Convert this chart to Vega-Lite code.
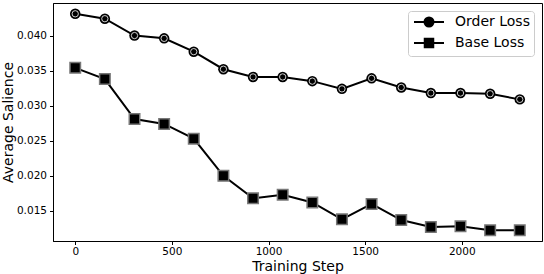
{
  "$schema": "https://vega.github.io/schema/vega-lite/v6.json",
  "width": 489,
  "height": 238,
  "autosize": "none",
  "padding": {"left": 53, "top": 3, "right": 2, "bottom": 33},
  "config": {
    "font": "DejaVu Sans",
    "view": {"stroke": "#000", "strokeWidth": 1},
    "axis": {"domainColor": "#000", "tickColor": "#000", "tickSize": 3.5, "labelFontSize": 10.5, "labelColor": "#000", "titleFontSize": 14, "titleFontWeight": "normal", "titleColor": "#000", "grid": false, "labelFont": "DejaVu Sans", "titleFont": "DejaVu Sans"}
  },
  "data": {"values": [
    {"step": 0, "series": "Order Loss", "value": 0.0431},
    {"step": 153.3, "series": "Order Loss", "value": 0.0424},
    {"step": 306.7, "series": "Order Loss", "value": 0.0400},
    {"step": 460, "series": "Order Loss", "value": 0.0396},
    {"step": 613.3, "series": "Order Loss", "value": 0.0377},
    {"step": 766.7, "series": "Order Loss", "value": 0.0352},
    {"step": 920, "series": "Order Loss", "value": 0.0341},
    {"step": 1073.3, "series": "Order Loss", "value": 0.0341},
    {"step": 1226.7, "series": "Order Loss", "value": 0.0335},
    {"step": 1380, "series": "Order Loss", "value": 0.0324},
    {"step": 1533.3, "series": "Order Loss", "value": 0.0339},
    {"step": 1686.7, "series": "Order Loss", "value": 0.0326},
    {"step": 1840, "series": "Order Loss", "value": 0.0318},
    {"step": 1993.3, "series": "Order Loss", "value": 0.0318},
    {"step": 2146.7, "series": "Order Loss", "value": 0.0317},
    {"step": 2300, "series": "Order Loss", "value": 0.0309},
    {"step": 0, "series": "Base Loss", "value": 0.0354},
    {"step": 153.3, "series": "Base Loss", "value": 0.0338},
    {"step": 306.7, "series": "Base Loss", "value": 0.0281},
    {"step": 460, "series": "Base Loss", "value": 0.0274},
    {"step": 613.3, "series": "Base Loss", "value": 0.0253},
    {"step": 766.7, "series": "Base Loss", "value": 0.0200},
    {"step": 920, "series": "Base Loss", "value": 0.0168},
    {"step": 1073.3, "series": "Base Loss", "value": 0.0173},
    {"step": 1226.7, "series": "Base Loss", "value": 0.0162},
    {"step": 1380, "series": "Base Loss", "value": 0.0138},
    {"step": 1533.3, "series": "Base Loss", "value": 0.0160},
    {"step": 1686.7, "series": "Base Loss", "value": 0.0137},
    {"step": 1840, "series": "Base Loss", "value": 0.0127},
    {"step": 1993.3, "series": "Base Loss", "value": 0.0128},
    {"step": 2146.7, "series": "Base Loss", "value": 0.01225},
    {"step": 2300, "series": "Base Loss", "value": 0.01225}
  ]},
  "encoding": {
    "x": {"field": "step", "type": "quantitative", "title": "Training Step",
      "scale": {"domain": [-115, 2415], "nice": false, "zero": false},
      "axis": {"values": [0, 500, 1000, 1500, 2000], "format": "d", "labelPadding": 2, "titlePadding": 2}},
    "y": {"field": "value", "type": "quantitative", "title": "Average Salience",
      "scale": {"domain": [0.01071, 0.04464], "nice": false, "zero": false},
      "axis": {"values": [0.015, 0.02, 0.025, 0.03, 0.035, 0.04], "format": ".3f", "labelPadding": 3, "titlePadding": 1}}
  },
  "layer": [
    {
      "mark": {"type": "line", "strokeWidth": 2},
      "encoding": {
        "color": {"field": "series", "type": "nominal",
          "scale": {"domain": ["Order Loss", "Base Loss"], "range": ["#000", "#000"]},
          "legend": {
            "title": null, "orient": "top-right", "offset": 8,
            "labelFontSize": 14, "labelFont": "DejaVu Sans", "labelColor": "#000",
            "symbolSize": 100, "symbolOffset": 10, "labelOffset": 19, "rowPadding": 3,
            "padding": 4, "strokeColor": "#ccc", "fillColor": "rgba(255,255,255,0.8)", "cornerRadius": 3,
            "symbolStrokeWidth": 2,
            "encode": {"symbols": {"update": {
              "shape": {"signal": "datum.value === 'Order Loss' ? 'M-3,0H3M0.9,0A0.9,0.9 0 1,1 -0.9,0A0.9,0.9 0 1,1 0.9,0Z' : 'M-3,0H3M-0.85,-0.85H0.85V0.85H-0.85Z'"},
              "fill": {"value": "#000"},
              "stroke": {"value": "#000"},
              "strokeWidth": {"value": 2}
            }}}
          }}
      }
    },
    {
      "transform": [{"filter": "datum.series === 'Order Loss'"}],
      "mark": {"type": "point", "shape": "circle", "filled": true, "size": 110, "color": "#000", "opacity": 1}
    },
    {
      "transform": [{"filter": "datum.series === 'Order Loss'"}],
      "mark": {"type": "point", "shape": "circle", "filled": true, "size": 40, "fill": "#000", "stroke": "#fff", "strokeWidth": 0.8, "opacity": 1}
    },
    {
      "transform": [{"filter": "datum.series === 'Base Loss'"}],
      "mark": {"type": "point", "shape": "square", "filled": true, "size": 110, "fill": "#000", "stroke": "#777", "strokeWidth": 1.5, "opacity": 1}
    }
  ]
}
